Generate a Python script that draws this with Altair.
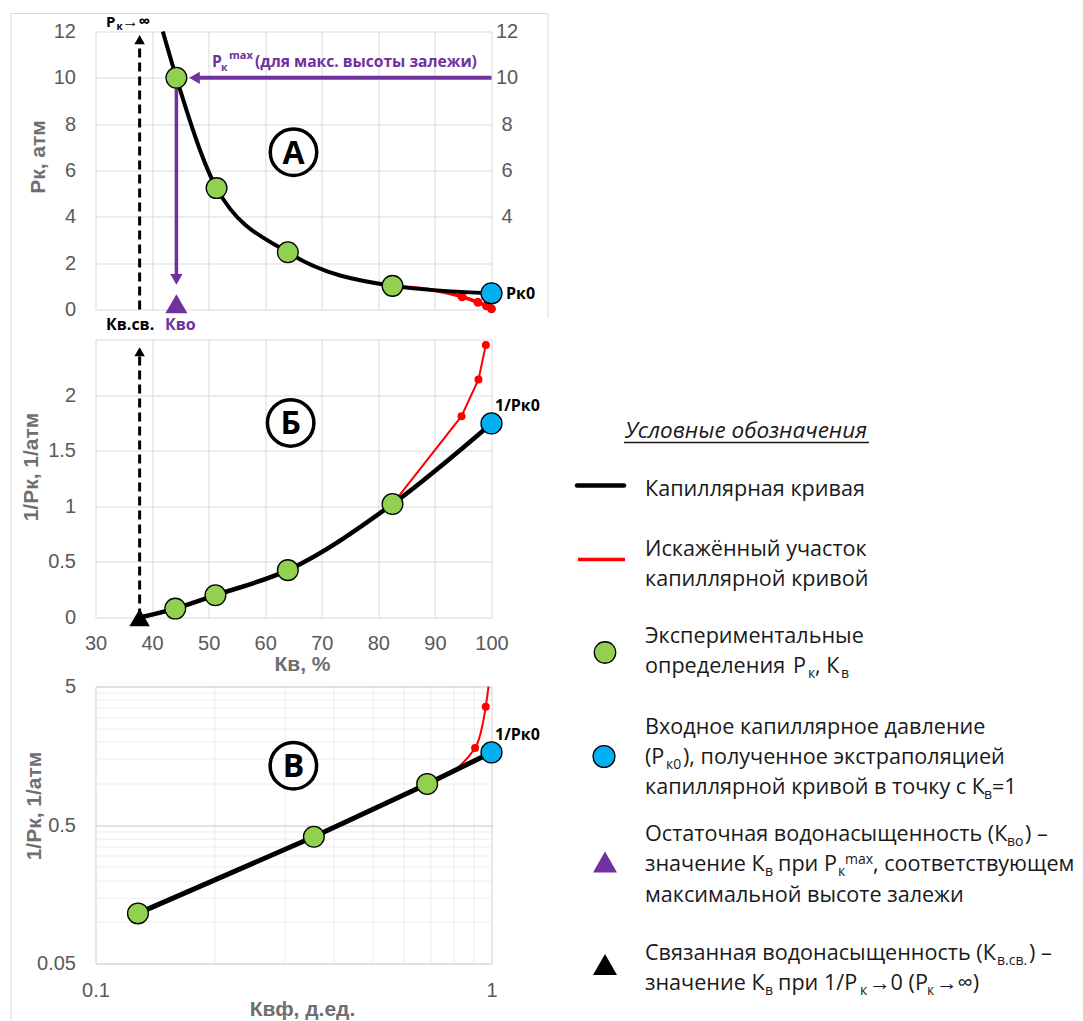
import altair as alt
import pandas as pd

# ---------------- data ----------------
kv_ticks = [30, 40, 50, 60, 70, 80, 90, 100]

# Panel A: Pk (atm) vs Kv (%)
a_exp_kv = [44.3, 51.4, 64.0, 82.5]
a_exp_pk = [10.0, 5.24, 2.47, 1.02]
a_curve_kv = [41.9, 44.3, 51.4, 64.0, 82.5, 100.0]
a_curve_pk = [12.0, 10.0, 5.24, 2.47, 1.02, 0.70]
a_red_kv = [82.5, 94.8, 97.6, 99.1, 100.0]
a_red_pk = [1.02, 0.55, 0.31, 0.16, 0.03]
a_pk0 = 0.70
kv_sv = 37.8
kv_o = 44.3
pk_max = 10.0
a_left_ticks = [0, 2, 4, 6, 8, 10, 12]
a_right_ticks = [4, 6, 8, 10, 12]

# Panel B: 1/Pk vs Kv (%)
b_exp_kv = [44.1, 51.2, 64.0, 82.5]
b_exp_inv = [0.08, 0.20, 0.426, 1.02]
b_curve_kv = [37.8, 44.1, 51.2, 64.0, 82.5, 100.0]
b_curve_inv = [0.0, 0.08, 0.20, 0.426, 1.02, 1.745]
b_red_kv = [82.5, 94.7, 97.7, 99.0]
b_red_inv = [1.02, 1.81, 2.14, 2.45]
b_inv0 = 1.745
b_y_ticks = [0, 0.5, 1, 1.5, 2, 2.5]

# Panel C: 1/Pk vs Kvf (log-log)
c_exp_kvf = [0.128, 0.356, 0.688]
c_exp_inv = [0.115, 0.411, 0.99]
c_curve_kvf = [0.128, 0.356, 0.688, 1.0]
c_curve_inv = [0.115, 0.411, 0.99, 1.67]
c_red_kvf = [0.688, 0.909, 0.967, 0.983]
c_red_inv = [0.99, 1.80, 3.57, 5.0]
c_inv0 = 1.67
c_x_ticks = [0.1, 0.2, 0.3, 0.4, 0.5, 0.6, 0.7, 0.8, 0.9, 1]
c_y_ticks = [0.05, 0.1, 0.15, 0.2, 0.25, 0.3, 0.35, 0.4, 0.45, 0.5,
             1, 1.5, 2, 2.5, 3, 3.5, 4, 4.5, 5]

# ---------------- styling ----------------
W = 396
HA, HB, HC = 278, 278, 277
GRID = "#d9d9d9"
LBL = "#595959"
TTL = "#6f6f6f"
GREEN = "#92D050"
BLUE = "#00B0F0"
PURPLE = "#7030A0"
RED = "#FF0000"
AXF = "Liberation Sans"
TXF = "Open Sans"

one = pd.DataFrame({"d": [0]})


def df(xs, ys):
    return pd.DataFrame({"x": xs, "y": ys})


def ptext(text, x, y, size, color="black", weight="bold", font=TXF,
          align="left", style="normal"):
    return alt.Chart(one).mark_text(
        text=text, font=font, fontSize=size, fontWeight=weight, color=color,
        align=align, baseline="alphabetic", fontStyle=style
    ).encode(x=alt.value(x), y=alt.value(y))


def axis_common(**kw):
    base = dict(ticks=False, tickSize=0, domain=False, grid=True, gridColor=GRID,
                labelFont=AXF, labelFontSize=20, labelColor=LBL, labelFlush=False,
                labelOverlap=False, titleFont=AXF, titleFontSize=21,
                titleFontWeight="bold", titleColor=TTL, titleAlign="center",
                titleBaseline="middle")
    base.update(kw)
    return alt.Axis(**base)


def green_pts(d, X, Y):
    return alt.Chart(d).mark_point(shape="circle", filled=True, fill=GREEN, stroke="black",
                                   strokeWidth=1.3, size=430, opacity=1).encode(x=X, y=Y)


def blue_pt(d, X, Y):
    return alt.Chart(d).mark_point(shape="circle", filled=True, fill=BLUE, stroke="black",
                                   strokeWidth=1.3, size=440, opacity=1).encode(x=X, y=Y)


def circled(d, letter, X, Y):
    ring = alt.Chart(d).mark_point(shape="circle", filled=False, stroke="black",
                                   strokeWidth=3.5, size=2160, opacity=1).encode(x=X, y=Y)
    lt = alt.Chart(d).mark_text(text=letter, font=TXF, fontSize=32, fontWeight="bold",
                                color="black", baseline="alphabetic", dy=11.5).encode(x=X, y=Y)
    return [ring, lt]


# ---------------- Panel A ----------------
XA = alt.X("x:Q", scale=alt.Scale(domain=[30, 100], nice=False, zero=False),
           axis=alt.Axis(values=kv_ticks, labels=False, ticks=False, domain=False,
                         grid=True, gridColor=GRID, title=None))
YA = alt.Y("y:Q", scale=alt.Scale(domain=[0, 12], nice=False, zero=False),
           axis=axis_common(values=a_left_ticks, labelPadding=20, title="Рк, атм",
                            titleX=-57.5, titleY=125, titleAngle=270))

a_layers = [
    alt.Chart(pd.DataFrame({"x": [kv_sv], "y": [0.0], "y2": [11.5]})).mark_rule(
        color="black", strokeWidth=3, strokeDash=[9, 5]).encode(x=XA, y=YA, y2="y2:Q"),
    alt.Chart(df([kv_sv], [11.65])).mark_point(shape="triangle-up", filled=True, color="black",
                                              size=110, opacity=1).encode(x=XA, y=YA),
    alt.Chart(pd.DataFrame({"x": [kv_o], "y": [pk_max], "y2": [1.5]})).mark_rule(
        color=PURPLE, strokeWidth=3.5).encode(x=XA, y=YA, y2="y2:Q"),
    alt.Chart(df([kv_o], [1.3])).mark_point(shape="triangle-down", filled=True, color=PURPLE,
                                           size=150, opacity=1).encode(x=XA, y=YA),
    alt.Chart(pd.DataFrame({"x": [100.0], "x2": [48.0], "y": [pk_max]})).mark_rule(
        color=PURPLE, strokeWidth=4).encode(x=XA, x2="x2:Q", y=YA),
    alt.Chart(df([47.5], [pk_max])).mark_point(shape="triangle-left", filled=True, color=PURPLE,
                                              size=150, opacity=1).encode(x=XA, y=YA),
    alt.Chart(df(a_red_kv, a_red_pk)).mark_line(color=RED, strokeWidth=3.5,
                                               interpolate="monotone").encode(x=XA, y=YA),
    alt.Chart(df(a_red_kv[1:], a_red_pk[1:])).mark_point(shape="circle", filled=True, color=RED,
                                                        size=80, opacity=1).encode(x=XA, y=YA),
    alt.Chart(df(a_curve_kv, a_curve_pk)).mark_line(color="black", strokeWidth=4,
                                                   interpolate="monotone").encode(x=XA, y=YA),
    green_pts(df(a_exp_kv, a_exp_pk), XA, YA),
    blue_pt(df([100.0], [a_pk0]), XA, YA),
    alt.Chart(df([kv_o], [0.25])).mark_point(shape="triangle-up", filled=True, color=PURPLE,
                                            size=484, opacity=1).encode(x=XA, y=YA),
]
a_layers += circled(df([65.0], [6.79]), "А", XA, YA)
a_layers += [
    ptext("P", 10.5, -4.5, 15),
    ptext("к", 20.9, -1.5, 10),
    ptext("→∞", 26.5, -4.5, 16.5),
    ptext("Кв.св.", 10.5, 298, 16),
    ptext("Кво", 69.5, 298, 16, color=PURPLE),
    ptext("Рк0", 410.5, 267.3, 16),
    ptext("P", 116.5, 35.7, 15.6, color=PURPLE),
    ptext("к", 125.5, 39.5, 10.5, color=PURPLE),
    ptext("max", 133.5, 27.5, 11, color=PURPLE),
    ptext("(для макс. высоты залежи)", 159.5, 35.7, 15.6, color=PURPLE),
]
a_inner = alt.layer(*a_layers)
a_right = alt.Chart(df([100.0], [a_pk0])).mark_point(opacity=0).encode(
    x=XA,
    y=alt.Y("y:Q", scale=alt.Scale(domain=[0, 12], nice=False, zero=False),
            axis=axis_common(orient="right", values=a_right_ticks, grid=False,
                             labelAlign="center", labelPadding=15, title=None)))
panelA = alt.layer(a_inner, a_right).resolve_scale(y="independent").properties(width=W, height=HA)

# ---------------- Panel B ----------------
XB = alt.X("x:Q", scale=alt.Scale(domain=[30, 100], nice=False, zero=False),
           axis=axis_common(values=kv_ticks, labelPadding=16, title="Кв, %",
                            titleX=206.5, titleY=47))
YB = alt.Y("y:Q", scale=alt.Scale(domain=[0, 2.5], nice=False, zero=False),
           axis=axis_common(values=b_y_ticks, format="~g",
                            labelExpr="datum.value > 2.2 ? '' : datum.label",
                            labelPadding=20, title="1/Рк, 1/атм",
                            titleX=-64.5, titleY=127, titleAngle=270))
b_layers = [
    alt.Chart(pd.DataFrame({"x": [kv_sv], "y": [0.0], "y2": [2.36]})).mark_rule(
        color="black", strokeWidth=3, strokeDash=[9, 5]).encode(x=XB, y=YB, y2="y2:Q"),
    alt.Chart(df([kv_sv], [2.39])).mark_point(shape="triangle-up", filled=True, color="black",
                                             size=110, opacity=1).encode(x=XB, y=YB),
    alt.Chart(df(b_red_kv, b_red_inv)).mark_line(color=RED, strokeWidth=2).encode(x=XB, y=YB),
    alt.Chart(df(b_red_kv[1:], b_red_inv[1:])).mark_point(shape="circle", filled=True, color=RED,
                                                         size=64, opacity=1).encode(x=XB, y=YB),
    alt.Chart(df(b_curve_kv, b_curve_inv)).mark_line(color="black", strokeWidth=4.5,
                                                    interpolate="monotone").encode(x=XB, y=YB),
    green_pts(df(b_exp_kv, b_exp_inv), XB, YB),
    blue_pt(df([100.0], [b_inv0]), XB, YB),
    alt.Chart(df([kv_sv], [0.0])).mark_point(shape="triangle-up", filled=True, color="black",
                                            size=420, opacity=1).encode(x=XB, y=YB),
]
b_layers += circled(df([64.5], [1.75]), "Б", XB, YB)
b_layers += [ptext("1/Рк0", 399.5, 71, 16)]

# ---------------- Legend (drawn in panel B's pixel frame) ----------------
LX, LY = 464.5, -308   # legend-local origin relative to panel B origin
LC = "#1a1a1a"
LS = 21.6
leg_runs = [
    ("Капиллярная кривая", 85, 464, "m"),
    ("Искажённый участок", 85, 524, "m"),
    ("капиллярной кривой", 85, 554, "m"),
    ("Экспериментальные", 85, 611, "m"),
    ("определения", 85, 641, "m"),
    ("Р", 233, 641, "m"), ("к", 248, 646, "s"), (", К", 255, 641, "m"), ("в", 281, 646, "s"),
    ("Входное  капиллярное давление", 85, 702, "m"),
    ("(Р", 85, 732, "m"), ("к0", 106, 737, "s"), ("), полученное экстраполяцией", 123, 732, "m"),
    ("капиллярной кривой в точку с К", 85, 762, "m"), ("в", 424, 767, "s"), ("=1", 432, 762, "m"),
    ("Остаточная водонасыщенность (К", 85, 809, "m"), ("во", 447, 814, "s"), (") –", 465, 809, "m"),
    ("значение К", 85, 839, "m"), ("в", 205, 844, "s"), ("при Р", 218, 839, "m"),
    ("к", 278, 844, "s"), ("max", 285, 832, "s"), (", соответствующем", 313, 839, "m"),
    ("максимальной высоте залежи", 85, 870, "m"),
    ("Связанная водонасыщенность (К", 85, 928, "m"), ("в.св.", 437, 933, "s"), (") –", 469, 928, "m"),
    ("значение К", 85, 958, "m"), ("в", 205, 963, "s"), ("при 1/Р", 218, 958, "m"),
    ("к", 300, 963, "s"), ("→0 (Р", 309, 958, "m"), ("к", 367, 963, "s"), ("→∞)", 376, 958, "m"),
]
leg_layers = []
for t, x, y, k in leg_runs:
    leg_layers.append(ptext(t, x + LX, y + LY, LS if k == "m" else 14, color=LC, weight="normal"))
leg_layers.append(ptext("Условные обозначения", 186 + LX, 406 + LY, 22.5, color=LC,
                        weight="normal", align="center", style="italic"))
leg_layers.append(alt.Chart(one).mark_rule(color=LC, strokeWidth=1.5).encode(
    x=alt.value(64 + LX), x2=alt.value(309 + LX), y=alt.value(411 + LY)))
leg_layers.append(alt.Chart(one).mark_rule(color="black", strokeWidth=4.5, strokeCap="round").encode(
    x=alt.value(17 + LX), x2=alt.value(64 + LX), y=alt.value(454 + LY)))
leg_layers.append(alt.Chart(one).mark_rule(color=RED, strokeWidth=3.5).encode(
    x=alt.value(18 + LX), x2=alt.value(65 + LX), y=alt.value(528 + LY)))
leg_layers.append(alt.Chart(one).mark_point(shape="circle", filled=True, fill=GREEN, stroke="black",
                                            strokeWidth=1.3, size=460, opacity=1).encode(
    x=alt.value(45 + LX), y=alt.value(621 + LY)))
leg_layers.append(alt.Chart(one).mark_point(shape="circle", filled=True, fill=BLUE, stroke="black",
                                            strokeWidth=1.3, size=480, opacity=1).encode(
    x=alt.value(44 + LX), y=alt.value(725 + LY)))
leg_layers.append(alt.Chart(one).mark_point(shape="triangle-up", filled=True, color=PURPLE,
                                            size=576, opacity=1).encode(
    x=alt.value(45 + LX), y=alt.value(830.5 + LY)))
leg_layers.append(alt.Chart(one).mark_point(shape="triangle-up", filled=True, color="black",
                                            size=576, opacity=1).encode(
    x=alt.value(45 + LX), y=alt.value(933 + LY)))
# light frame around the left block
FR = "#d9d9d9"
leg_layers.append(alt.Chart(one).mark_rule(color=FR, strokeWidth=1).encode(
    x=alt.value(-84.5), y=alt.value(-326), y2=alt.value(682)))
leg_layers.append(alt.Chart(one).mark_rule(color=FR, strokeWidth=1).encode(
    x=alt.value(-84.5), x2=alt.value(452.5), y=alt.value(-326)))
leg_layers.append(alt.Chart(one).mark_rule(color=FR, strokeWidth=1).encode(
    x=alt.value(452.5), y=alt.value(-326), y2=alt.value(-21)))

panelB = alt.layer(*(b_layers + leg_layers)).properties(width=W, height=HB)

# ---------------- Panel C ----------------
major_x = "datum.value == 0.1 || datum.value == 1"
major_y = "datum.value == 0.05 || datum.value == 0.5 || datum.value == 5"
XC = alt.X("x:Q", scale=alt.Scale(type="log", domain=[0.1, 1], nice=False),
           axis=axis_common(values=c_x_ticks, format="~g",
                            labelExpr="(" + major_x + ") ? datum.label : ''",
                            gridColor={"condition": {"test": major_x, "value": "#cfcfcf"},
                                       "value": "#ececec"},
                            labelPadding=17, title="Квф, д.ед.", titleX=206.5, titleY=46))
YC = alt.Y("y:Q", scale=alt.Scale(type="log", domain=[0.05, 5], nice=False),
           axis=axis_common(values=c_y_ticks, format="~g",
                            labelExpr="(" + major_y + ") ? datum.label : ''",
                            gridColor={"condition": {"test": major_y, "value": "#c4c4c4"},
                                       "value": "#ececec"},
                            labelPadding=20, title="1/Рк, 1/атм",
                            titleX=-61.5, titleY=119, titleAngle=270))
c_layers = [
    alt.Chart(df(c_red_kvf, c_red_inv)).mark_line(color=RED, strokeWidth=2,
                                                 interpolate="monotone").encode(x=XC, y=YC),
    alt.Chart(df(c_red_kvf[1:3], c_red_inv[1:3])).mark_point(shape="circle", filled=True, color=RED,
                                                            size=64, opacity=1).encode(x=XC, y=YC),
    alt.Chart(df(c_curve_kvf, c_curve_inv)).mark_line(color="black", strokeWidth=5).encode(x=XC, y=YC),
    green_pts(df(c_exp_kvf, c_exp_inv), XC, YC),
    blue_pt(df([1.0], [c_inv0]), XC, YC),
]
c_layers += circled(df([0.316], [1.34]), "В", XC, YC)
c_layers += [ptext("1/Рк0", 399.5, 53.3, 16)]
panelC = alt.layer(*c_layers).properties(width=W, height=HC)

spacer = alt.Chart(one).mark_point(opacity=0).encode(
    x=alt.value(0), y=alt.value(0)).properties(width=W, height=9)

# ---------------- assemble ----------------
chart = alt.vconcat(panelA, panelB, spacer, panelC, spacing=30, bounds="flush").properties(
    padding={"left": 10.5, "top": 12.5, "right": 0, "bottom": 0},
    background="white",
).configure_view(stroke=None)

chart.save("out.html", embed_options={"renderer": "svg", "actions": False})
